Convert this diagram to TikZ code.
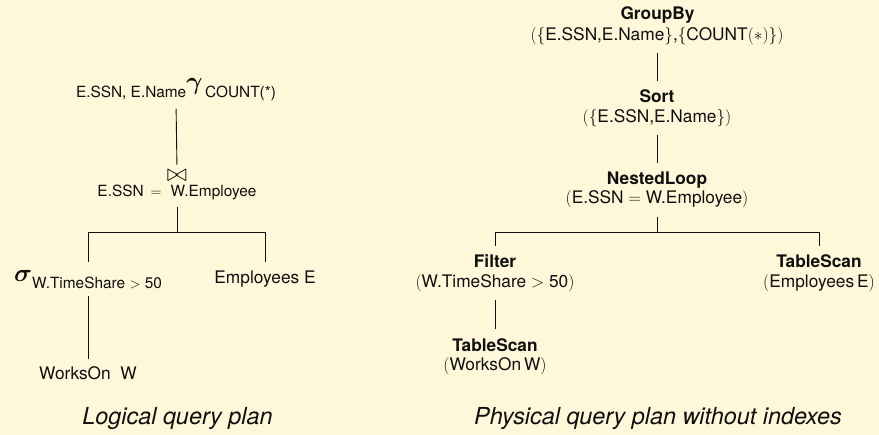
\documentclass[tikz,border=0pt]{standalone}
\usepackage{amsmath}
\usepackage{fontspec}
\setmainfont{TeX Gyre Heros}
\definecolor{paper}{RGB}{255,247,217}
\definecolor{ink}{RGB}{15,15,15}
\newcommand{\fsz}[1]{\fontsize{#1}{#1}\selectfont}
\begin{document}
\begin{tikzpicture}[x=1pt,y=-1pt,
  every node/.style={inner sep=0pt,outer sep=0pt,text=ink,anchor=base},
  opsm/.style={font=\fsz{15.4}},
  leaf/.style={font=\fsz{17.3}},
  phys/.style={font=\fsz{17.3}},
  title/.style={font=\fsz{17.3}\bfseries},
  caption/.style={font=\fsz{23.4}\itshape},
  link/.style={draw=ink,line width=0.9pt,shorten <=7.5pt,shorten >=9pt},
  bar/.style={draw=ink,line width=0.9pt}]
\fill[paper] (0,0) rectangle (879,435);
\useasboundingbox (0,0) rectangle (879,435);

% ---- logical plan ----
\node[opsm] (grp) at (176,98) {E.SSN, E.Name\raisebox{8.4pt}{\fsz{24.8}$\boldsymbol{\gamma}$}\,COUNT(*)};
\node[anchor=center] (join) at (177,175.5) {\fsz{32}$\bowtie$};
\node[opsm] (cond) at (177,197) {E.SSN\hspace{7pt}$=$\hspace{9pt}W.Employee};
\node[opsm] (sel) at (88,289) {\raisebox{7pt}{\fsz{26}$\boldsymbol{\sigma}$}W.TimeShare $>$ 50};
\node[leaf] (emp) at (265,284) {Employees E};
\node[leaf] (wo) at (88,380) {WorksOn\ \ W};
\coordinate (lfork) at (177,232);

\draw[link,shorten >=5pt] (grp.south) -- (join.north);
\draw[bar,shorten <=7pt] (cond.south) -- (lfork);
\draw[bar,shorten >=8.5pt] (lfork) -| (sel.north);
\draw[bar,shorten >=9pt] (lfork) -| (emp.north);
\draw[link,shorten <=7pt,shorten >=8.5pt] (sel.south) -- (wo.north);

\node[caption] (lcap) at (177.5,425) {Logical query plan};

% ---- physical plan ----
\node[title] (gb) at (657.5,20) {GroupBy};
\node[phys] (gbA) at (657,41) {$(\{$E.SSN,E.Name$\}$,$\{$COUNT$(\ast)\})$};
\node[title] (so) at (657,103) {Sort};
\node[phys] (soA) at (657,123) {$(\{$E.SSN,E.Name$\})$};
\node[title] (nl) at (657,185) {NestedLoop};
\node[phys] (nlA) at (657,204) {$($E.SSN$\;=\;$W.Employee$)$};
\node[title] (fi) at (495,268) {Filter};
\node[phys] (fiA) at (495,288) {$($W.TimeShare$\;>\;$50$)$};
\node[title] (tsW) at (495,352) {TableScan};
\node[phys] (tsWA) at (495,371) {$($WorksOn\,W$)$};
\node[title] (tsE) at (819,268) {TableScan};
\node[phys] (tsEA) at (819,288) {$($Employees\,E$)$};
\coordinate (pfork) at (657,232);

\draw[link] (gbA.south) -- (so.north);
\draw[link] (soA.south) -- (nl.north);
\draw[bar,shorten <=8.5pt] (nlA.south) -- (pfork);
\draw[bar,shorten >=9pt] (pfork) -| (fi.north);
\draw[bar,shorten >=9pt] (pfork) -| (tsE.north);
\draw[link,shorten >=10.5pt] (fiA.south) -- (tsW.north);

\node[caption] (pcap) at (658,425) {Physical query plan without indexes};
\end{tikzpicture}
\end{document}
